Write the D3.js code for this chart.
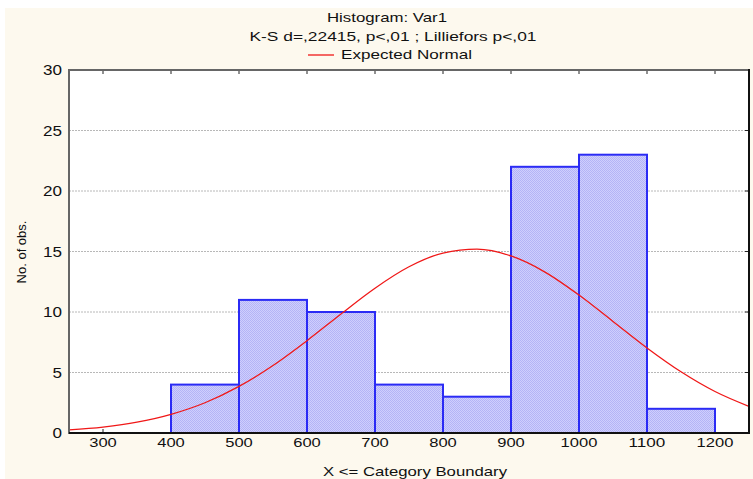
<!DOCTYPE html>
<html><head><meta charset="utf-8">
<script src="https://cdn.jsdelivr.net/npm/d3@7"></script>
<style>body{margin:0;background:#fff}svg{display:block}text{font-family:"Liberation Sans",Arial,sans-serif;fill:#111}</style>
</head><body>
<svg id="c" width="753" height="479"></svg>
<script>
const binStarts = [400, 500, 600, 700, 800, 900, 1000, 1100];
const binWidth = 100;
const counts = [4, 11, 10, 4, 3, 22, 23, 2];
const curveX = [250,300,350,400,450,500,550,600,650,700,750,800,850,900,950,1000,1050,1100,1150,1200,1250];
const curveY = [0.25,0.49,0.89,1.54,2.5,3.85,5.58,7.63,9.84,11.97,13.74,14.87,15.19,14.63,13.3,11.4,9.22,7.03,5.06,3.43,2.2];
const xTicks = [300,400,500,600,700,800,900,1000,1100,1200];
const yTicks = [0,5,10,15,20,25,30];
const titleText = "Histogram: Var1";
const subtitleText = "K-S d=,22415, p<,01 ; Lilliefors p<,01";
const legendText = "Expected Normal";

const svg = d3.select("#c");
const L = 69, R = 749, T = 70, B = 433;
const x = d3.scaleLinear().domain([250, 1250]).range([L, R]);
const y = d3.scaleLinear().domain([0, 30]).range([B, T]);

svg.append("rect").attr("x",5).attr("y",8).attr("width",748).attr("height",471).attr("fill","#fdf9ee");
const defs = svg.append("defs");
const pat = defs.append("pattern").attr("id","hatch").attr("width",2).attr("height",2).attr("patternUnits","userSpaceOnUse");
pat.append("rect").attr("width",2).attr("height",2).attr("fill","#cfcffd");
pat.append("rect").attr("width",1).attr("height",1).attr("fill","#b4b4f6");
pat.append("rect").attr("x",1).attr("y",1).attr("width",1).attr("height",1).attr("fill","#b4b4f6");
defs.append("clipPath").attr("id","clip").append("rect").attr("x",L).attr("y",T).attr("width",R-L).attr("height",B-T);

svg.append("rect").attr("x",L).attr("y",T).attr("width",R-L).attr("height",B-T).attr("fill","#fff");

// grid
svg.append("g").selectAll("line").data(yTicks.filter(d=>d>0&&d<30)).join("line")
  .attr("x1",L).attr("x2",R).attr("y1",d=>y(d)).attr("y2",d=>y(d))
  .attr("stroke","#b8b8b8").attr("stroke-width",1).attr("stroke-dasharray","2,1");

// bottom ticks (inside)
svg.append("g").selectAll("line").data(xTicks).join("line")
  .attr("x1",d=>x(d)).attr("x2",d=>x(d)).attr("y1",B).attr("y2",B-4).attr("stroke","#222");
// top ticks
svg.append("g").selectAll("line").data(xTicks).join("line")
  .attr("x1",d=>x(d)).attr("x2",d=>x(d)).attr("y1",T).attr("y2",T+4).attr("stroke","#222");
// right ticks
svg.append("g").selectAll("line").data(yTicks.filter(d=>d>0&&d<30)).join("line")
  .attr("x1",R).attr("x2",R-4).attr("y1",d=>y(d)).attr("y2",d=>y(d)).attr("stroke","#222");

// bars
svg.append("g").selectAll("rect").data(counts).join("rect")
  .attr("x",(d,i)=>x(binStarts[i]))
  .attr("width",(d,i)=>x(binStarts[i]+binWidth)-x(binStarts[i]))
  .attr("y",d=>y(d)).attr("height",d=>B-y(d))
  .attr("fill","url(#hatch)").attr("stroke","#2b2bf5").attr("stroke-width",2);

// curve
const pts = curveX.map((v,i)=>[v,curveY[i]]);
svg.append("path").datum(pts).attr("clip-path","url(#clip)")
  .attr("d",d3.line().x(d=>x(d[0])).y(d=>y(d[1])).curve(d3.curveMonotoneX))
  .attr("fill","none").attr("stroke","#f01818").attr("stroke-width",1.3);

// frame
svg.append("line").attr("x1",L).attr("x2",R).attr("y1",T).attr("y2",T).attr("stroke","#666").attr("stroke-width",2);
svg.append("line").attr("x1",L).attr("x2",L).attr("y1",T-1).attr("y2",B+1).attr("stroke","#666").attr("stroke-width",2);
svg.append("line").attr("x1",R).attr("x2",R).attr("y1",T-1).attr("y2",B+1).attr("stroke","#111").attr("stroke-width",2);
svg.append("line").attr("x1",L).attr("x2",R+1).attr("y1",B).attr("y2",B).attr("stroke","#111").attr("stroke-width",2);

function stretch(sel, w){ sel.attr("textLength", w).attr("lengthAdjust","spacingAndGlyphs"); }

// axis labels
svg.append("g").selectAll("text").data(yTicks).join("text")
  .attr("x",L-7).attr("y",d=>y(d)+5).attr("text-anchor","end").attr("font-size",14)
  .attr("textLength",d=>String(d).length*9.5).attr("lengthAdjust","spacingAndGlyphs").text(d=>d);
svg.append("g").selectAll("text").data(xTicks).join("text")
  .attr("x",d=>x(d)).attr("y",B+14).attr("text-anchor","middle").attr("font-size",13)
  .attr("textLength",d=>String(d).length*9.2).attr("lengthAdjust","spacingAndGlyphs").text(d=>d);

svg.append("text").attr("transform","translate(26,252) rotate(-90)").attr("text-anchor","middle").attr("font-size",13).text("No. of obs.");
svg.append("text").attr("x",415).attr("y",476).attr("text-anchor","middle").attr("font-size",13)
  .call(stretch,184).text("X <= Category Boundary");

svg.append("text").attr("x",387).attr("y",22).attr("text-anchor","middle").attr("font-size",13).call(stretch,120).text(titleText);
svg.append("text").attr("x",393).attr("y",41).attr("text-anchor","middle").attr("font-size",13).call(stretch,287).text(subtitleText);
svg.append("line").attr("x1",308).attr("x2",334).attr("y1",55).attr("y2",55).attr("stroke","#f01818").attr("stroke-width",1.3);
svg.append("text").attr("x",341).attr("y",59).attr("font-size",13).call(stretch,131).text(legendText);
</script>
</body></html>
